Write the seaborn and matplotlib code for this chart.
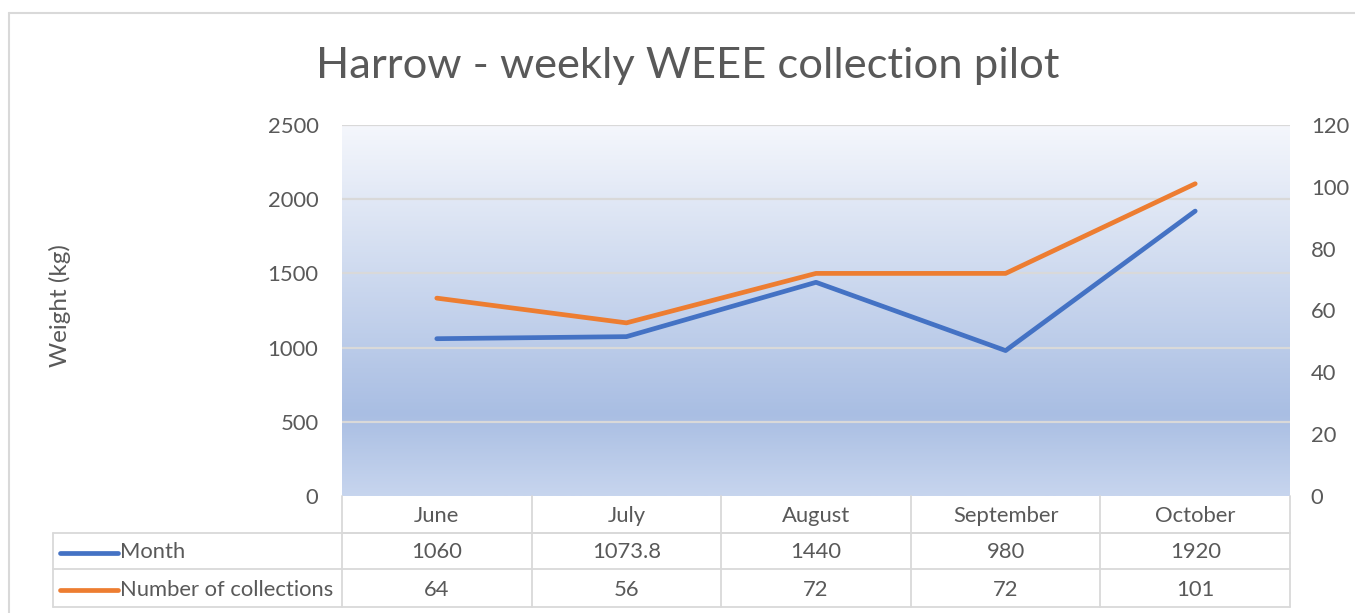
import matplotlib

matplotlib.use("Agg")

import matplotlib.pyplot as plt
import numpy as np
import pandas as pd
import seaborn as sns
from matplotlib.colors import LinearSegmentedColormap
from matplotlib.transforms import blended_transform_factory

months = ["June", "July", "August", "September", "October"]
weight_kg = [1060, 1073.8, 1440, 980, 1920]
collections = [64, 56, 72, 72, 101]
weight_labels = ["1060", "1073.8", "1440", "980", "1920"]
collection_labels = ["64", "56", "72", "72", "101"]
series_names = ["Month", "Number of collections"]
left_ticks = [0, 500, 1000, 1500, 2000, 2500]
right_ticks = [0, 20, 40, 60, 80, 100, 120]

BLUE = "#4472C4"
ORANGE = "#ED7D31"
TEXT = "#595959"
GRID = "#D9D9D9"
FS = 15.8

sns.set_theme(style="white")
plt.rcParams["font.family"] = ["Lato", "DejaVu Sans"]

df = pd.DataFrame({"month": months, "weight": weight_kg, "collections": collections})
df["pos"] = np.arange(len(df))

fig = plt.figure(figsize=(13.55, 6.13), dpi=100)
W, H = 1355, 613
ax = fig.add_axes([342 / W, 1 - 496 / H, (1290 - 342) / W, (496 - 125) / H])
ax2 = ax.twinx()

# gradient plot background
cmap = LinearSegmentedColormap.from_list(
    "bg", [(0.0, "#F5F7FC"), (0.78, "#A9BEE3"), (1.0, "#C7D5EE")]
)
grad = np.linspace(0, 1, 256).reshape(-1, 1)
ax.imshow(grad, cmap=cmap, aspect="auto", extent=[0, 1, 0, 1],
          transform=ax.transAxes, zorder=0, origin="upper")

ax.set_xlim(-0.5, 4.5)
ax.set_ylim(0, 2500)
ax2.set_ylim(0, 120)
ax.set_yticks(left_ticks)
ax2.set_yticks(right_ticks)

for y in left_ticks[1:]:
    ax.axhline(y, color=GRID, lw=1.6, zorder=1)

sns.lineplot(data=df, x="pos", y="weight", ax=ax, color=BLUE, lw=3.4,
             zorder=3, solid_capstyle="round")
sns.lineplot(data=df, x="pos", y="collections", ax=ax2, color=ORANGE, lw=3.4,
             zorder=3, solid_capstyle="round")

for a in (ax, ax2):
    for s in a.spines.values():
        s.set_visible(False)
    a.set_xlabel("")
    a.set_ylabel("")
    a.tick_params(axis="y", length=0, labelsize=FS, labelcolor=TEXT)
ax.tick_params(axis="y", pad=17)
ax2.tick_params(axis="y", pad=15)
ax.set_xticks([])
ax2.set_xticks([])

fig.text(60 / W, 1 - 306 / H, "Weight (kg)", rotation=90, ha="center",
         va="center", fontsize=17.5, color=TEXT)

fig.text(688 / W, 1 - 66 / H, "Harrow - weekly WEEE collection pilot",
         ha="center", va="center", fontsize=31.3, color=TEXT)

# data table below the plot
tr = blended_transform_factory(ax.transData, ax.transAxes)
ah = (496 - 125)
row_edges = [0, -(533 - 496) / ah, -(569 - 496) / ah, -(607 - 496) / ah]
row_mid = [(row_edges[i] + row_edges[i + 1]) / 2 - 1.5 / ah for i in range(3)]
line_kw = dict(color=GRID, lw=1.3, transform=tr, clip_on=False, zorder=4)
left_edge = -0.5 - (342 - 53) / (1290 - 342) * 5

for i in range(len(months) + 1):
    x = i - 0.5
    ax.plot([x, x], [0, row_edges[3]], **line_kw)
ax.plot([left_edge, left_edge], [row_edges[1], row_edges[3]], **line_kw)
ax.plot([-0.5, 4.5], [row_edges[1], row_edges[1]], **line_kw)
for y in row_edges[1:]:
    ax.plot([left_edge, 4.5], [y, y], **line_kw)

for i, m in enumerate(months):
    ax.text(i, row_mid[0], m, transform=tr, ha="center", va="center",
            fontsize=FS, color=TEXT)
    ax.text(i, row_mid[1], weight_labels[i], transform=tr, ha="center",
            va="center", fontsize=FS, color=TEXT)
    ax.text(i, row_mid[2], collection_labels[i], transform=tr, ha="center",
            va="center", fontsize=FS, color=TEXT)

key_x0 = left_edge + 7 / 189.6
key_x1 = left_edge + 65 / 189.6
for name, col, ym in zip(series_names, [BLUE, ORANGE], row_mid[1:]):
    ax.plot([key_x0, key_x1], [ym, ym], color=col, lw=3.4, transform=tr,
            clip_on=False, solid_capstyle="round", zorder=5)
    ax.text(key_x1 + 2 / 189.6, ym, name, transform=tr, ha="left",
            va="center", fontsize=FS, color=TEXT)

# chart area border
fig.add_artist(plt.Line2D([8.5 / W, 8.5 / W], [0, 1 - 12.5 / H],
                          color=GRID, lw=1.5, transform=fig.transFigure))
fig.add_artist(plt.Line2D([8.5 / W, 1], [1 - 12.5 / H, 1 - 12.5 / H],
                          color=GRID, lw=1.5, transform=fig.transFigure))

fig.savefig("out.png", dpi=100)
